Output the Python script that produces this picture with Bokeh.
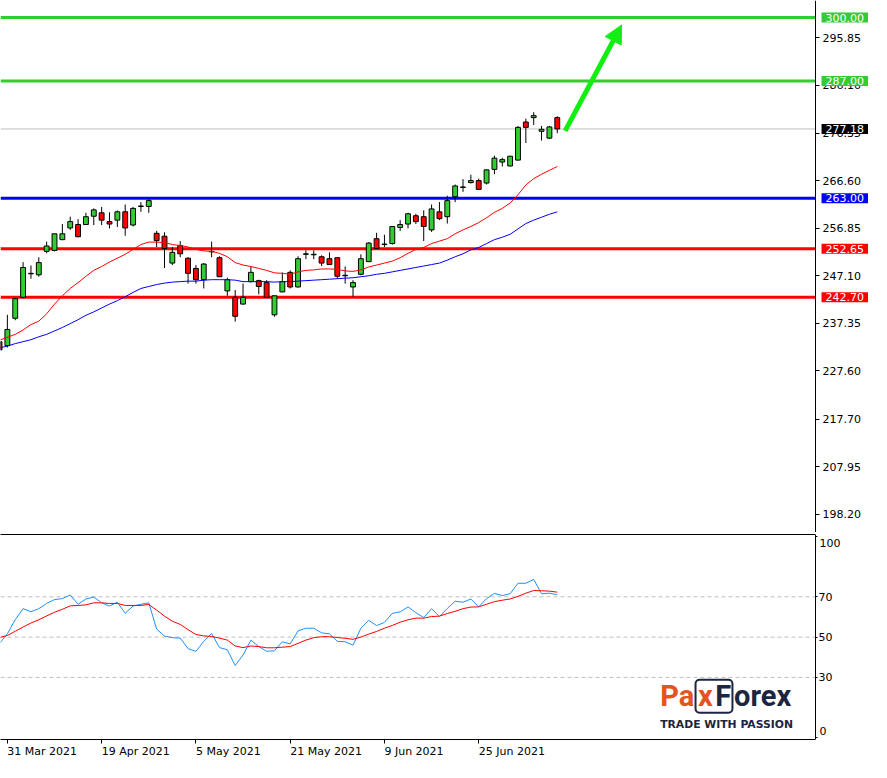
from bokeh.plotting import figure
from bokeh.layouts import column
from bokeh.models import (ColumnDataSource, Label, Arrow, NormalHead, FixedTicker,
                          PrintfTickFormatter, LinearAxis, BoxAnnotation, Range1d)
from bokeh.embed import file_html
from bokeh.resources import INLINE

# ---------------- data ----------------
bar_index = list(range(-1, 71))
opens = [233.6, 232.8, 238.4, 242.7, 247.5, 247.3, 252.1, 252.3, 254.5, 256.9,
         257.6, 257.6, 259.3, 260.0, 258.2, 258.5, 260.2, 257.5, 261.3, 261.3,
         255.8, 255.2, 249.7, 253.3, 250.7, 248.6, 246.3, 252.0, 250.8, 244.0,
         242.7, 241.3, 245.9, 246.1, 245.7, 239.1, 243.8, 247.8, 244.8, 251.5,
         251.4, 251.0, 250.6, 250.8, 247.2, 244.8, 247.4, 250.0, 254.7, 253.5,
         253.7, 257.0, 257.7, 259.4, 259.2, 256.5, 260.2, 259.2, 263.3, 265.2,
         266.2, 266.6, 266.1, 268.9, 270.4, 269.6, 270.8, 278.6, 279.5, 276.7,
         275.3, 279.5]
highs = [234.1, 239.1, 242.5, 249.9, 249.2, 250.9, 254.1, 255.7, 257.7, 259.2,
         258.7, 260.0, 260.9, 261.2, 260.1, 260.5, 261.7, 261.2, 262.2, 262.8,
         256.3, 256.0, 253.0, 254.2, 250.9, 249.3, 249.7, 254.1, 251.1, 246.7,
         244.2, 245.5, 249.0, 246.3, 246.2, 243.0, 247.8, 248.2, 251.1, 252.3,
         252.3, 251.3, 251.9, 250.8, 249.0, 246.2, 251.5, 254.0, 255.9, 255.5,
         257.2, 258.5, 260.0, 259.8, 260.5, 261.7, 262.2, 263.5, 265.8, 266.9,
         267.8, 267.0, 268.9, 271.7, 271.3, 271.6, 277.8, 279.3, 280.6, 277.8,
         277.8, 279.8]
lows = [231.4, 232.4, 238.0, 242.5, 246.5, 246.9, 251.7, 252.1, 254.4, 256.5,
        255.0, 257.5, 257.5, 257.5, 256.8, 257.1, 255.3, 257.2, 260.2, 260.0,
        253.0, 248.7, 249.3, 250.9, 245.5, 245.5, 244.5, 250.9, 246.9, 243.0,
        237.7, 241.2, 245.7, 243.3, 242.7, 238.7, 243.7, 244.5, 244.7, 250.5,
        250.5, 249.1, 249.4, 246.5, 245.5, 242.8, 247.2, 249.9, 252.7, 253.0,
        253.5, 256.3, 256.8, 257.7, 254.2, 256.1, 258.5, 257.8, 262.2, 264.3,
        266.0, 264.7, 265.8, 267.9, 269.5, 269.5, 270.7, 274.3, 278.0, 274.8,
        275.1, 276.3]
closes = [231.9, 236.1, 242.4, 248.8, 247.6, 249.8, 253.2, 255.7, 255.7, 258.2,
          255.1, 259.2, 260.6, 258.5, 257.7, 260.2, 256.9, 260.9, 261.4, 262.5,
          254.3, 252.7, 251.9, 251.6, 247.6, 246.3, 249.5, 252.1, 246.9, 246.3,
          238.8, 242.7, 247.8, 244.9, 242.7, 243.0, 245.9, 244.8, 250.6, 251.6,
          251.5, 249.7, 249.4, 247.0, 247.1, 245.7, 250.6, 253.8, 252.7, 253.6,
          257.2, 257.6, 259.8, 258.2, 257.2, 260.8, 258.8, 262.5, 265.5, 265.3,
          266.6, 264.8, 268.8, 271.2, 270.9, 271.6, 277.5, 277.5, 279.9, 277.1,
          277.6, 277.18]
ma_fast = [233.9, 234.5, 235.1, 236.0, 237.1, 237.8, 239.3, 241.3, 243.0, 244.5,
           245.7, 247.0, 248.2, 249.0, 249.9, 250.7, 251.5, 252.5, 253.5, 254.0,
           254.0, 253.9, 253.5, 253.3, 253.0, 252.5, 252.2, 252.1, 251.7, 251.0,
           249.8, 249.3, 249.0, 248.6, 248.2, 247.7, 247.6, 247.4, 247.9, 248.2,
           248.3, 248.5, 248.5, 248.4, 248.1, 248.0, 248.3, 248.9, 249.3, 249.7,
           250.1, 250.8, 251.7, 252.5, 252.9, 253.7, 254.2, 254.7, 255.7, 256.5,
           257.2, 258.0, 259.0, 260.1, 260.9, 262.0, 263.7, 265.7, 267.0, 267.9,
           268.7, 269.5]
ma_slow = [232.3, 232.7, 233.2, 233.6, 234.0, 234.6, 235.1, 235.8, 236.5, 237.3,
           238.1, 239.0, 239.7, 240.5, 241.3, 242.0, 242.8, 243.7, 244.5, 244.9,
           245.3, 245.6, 245.8, 245.9, 246.0, 246.0, 246.2, 246.3, 246.3, 246.3,
           246.2, 245.9, 245.9, 245.9, 245.9, 245.8, 245.9, 245.9, 246.0, 246.1,
           246.2, 246.3, 246.4, 246.5, 246.6, 246.7, 246.9, 247.1, 247.4, 247.6,
           247.9, 248.2, 248.5, 248.8, 249.1, 249.4, 249.7, 250.3, 251.0, 251.6,
           252.4, 252.9, 253.7, 254.5, 255.0, 255.6, 256.7, 257.8, 258.5, 259.1,
           259.7, 260.2]
rsi = [46.9, 51.6, 58.6, 64.1, 62.6, 64.1, 66.7, 68.6, 69.1, 70.9,
       66.3, 68.9, 69.9, 67.0, 65.4, 67.3, 61.8, 65.4, 66.3, 67.0,
       54.0, 50.5, 49.7, 49.5, 44.3, 42.9, 47.9, 51.8, 44.8, 43.7,
       35.9, 41.1, 48.5, 45.3, 43.0, 43.2, 47.7, 46.6, 53.1, 54.4,
       54.4, 52.1, 51.6, 47.9, 47.7, 46.0, 54.4, 58.3, 55.7, 57.3,
       61.8, 62.5, 65.0, 62.1, 59.7, 64.1, 60.2, 64.2, 67.8, 67.3,
       68.9, 65.0, 69.1, 71.7, 70.6, 71.5, 76.7, 76.7, 78.6, 71.5,
       71.8, 71.0]
rsi_signal = [49.8, 50.8, 52.9, 55.0, 57.0, 58.6, 60.5, 62.3, 63.8, 65.5,
              65.7, 66.0, 67.0, 67.0, 66.7, 66.7, 65.7, 65.7, 65.7, 66.2,
              63.4, 60.4, 57.9, 56.3, 53.7, 51.3, 50.6, 50.3, 49.5, 48.5,
              45.6, 44.8, 45.6, 45.3, 44.7, 44.7, 45.0, 45.3, 46.9, 48.5,
              49.7, 50.2, 50.2, 49.8, 49.4, 48.9, 50.0, 51.5, 52.8, 54.4,
              55.8, 57.4, 58.6, 59.4, 59.4, 60.2, 60.4, 61.7, 62.8, 64.1,
              64.9, 65.0, 66.3, 67.6, 68.3, 68.9, 70.2, 71.8, 73.1, 73.0,
              72.8, 72.3]

date_tick_index = [0, 12, 24, 36, 48, 60]
date_tick_labels = ["31 Mar 2021", "19 Apr 2021", "5 May 2021",
                    "21 May 2021", "9 Jun 2021", "25 Jun 2021"]
price_ticks = [295.85, 286.10, 276.35, 266.60, 256.85, 247.10,
               237.35, 227.60, 217.70, 207.95, 198.20]
rsi_ticks = [0, 30, 50, 70, 100]
rsi_levels = [30, 50, 70]

green_levels = [300.00, 287.00]
blue_levels = [263.00]
red_levels = [252.65, 242.70]
last_price = 277.18
arrow_from = (71.0, 276.8)
arrow_to = (78.2, 298.5)

# ---------------- styling / layout ----------------
FONT = "DejaVu Sans"
GREEN_LVL = "#33CC33"
ARROW_GREEN = "#11EE11"
CANDLE_UP = "#33CC33"
CANDLE_DN = "#FF0000"
X0, X_END = -0.875, 110.0      # visible bar-index range over the full width
X_AXIS = 102.875               # where the price / RSI scale sits
WIDTH = 871


def bare_axis(**kw):
    return LinearAxis(ticker=FixedTicker(ticks=[]), major_tick_out=0, major_tick_in=0,
                      minor_tick_out=0, minor_tick_in=0, major_label_standoff=0,
                      axis_line_color="black", bounds=(X0, X_AXIS), **kw)


def style_axis(ax, tick_out, standoff):
    ax.major_tick_out = tick_out
    ax.major_tick_in = 0
    ax.minor_tick_out = 0
    ax.minor_tick_in = 0
    ax.major_label_standoff = standoff
    ax.major_label_text_font = FONT
    ax.major_label_text_font_size = "11px"
    ax.major_label_text_color = "black"
    ax.axis_line_color = "black"


# ================= price panel =================
p1 = figure(frame_width=WIDTH, frame_height=532,
            x_range=Range1d(X0, X_END), y_range=Range1d(194.5, 303.5),
            output_backend="svg", toolbar_location=None,
            x_axis_location=None, y_axis_location=None,
            min_border_left=0, min_border_right=0,
            min_border_top=0, min_border_bottom=0)
p1.grid.visible = False
p1.outline_line_color = None

p1.add_layout(bare_axis(), "below")

ya = LinearAxis(ticker=FixedTicker(ticks=price_ticks),
                formatter=PrintfTickFormatter(format="%.2f"),
                fixed_location=X_AXIS)
style_axis(ya, 4, 3)
p1.add_layout(ya, "right")

# horizontal levels (stop at the price scale)
lvl_vals = [last_price] + green_levels + blue_levels + red_levels
lvl_cols = ["#C0C0C0"] + [GREEN_LVL] * len(green_levels) + ["#0000FF"] * len(blue_levels) \
    + ["#FF0000"] * len(red_levels)
lvl_w = [1] + [3] * (len(lvl_vals) - 1)
lvl_src = ColumnDataSource(dict(x0=[X0] * len(lvl_vals), x1=[X_AXIS] * len(lvl_vals),
                                y=lvl_vals, c=lvl_cols, w=lvl_w))
p1.segment(x0="x0", y0="y", x1="x1", y1="y", line_color="c", line_width="w", source=lvl_src)

# candles
tops = [max(o, c) for o, c in zip(opens, closes)]
bottoms = [min(o, c) for o, c in zip(opens, closes)]
colors = [CANDLE_UP if c >= o else CANDLE_DN for o, c in zip(opens, closes)]
src = ColumnDataSource(dict(x=bar_index, o=opens, h=highs, l=lows, c=closes,
                            top=tops, bottom=bottoms, color=colors))
p1.segment(x0="x", y0="l", x1="x", y1="h", source=src, line_color="black", line_width=1)
p1.vbar(x="x", width=0.62, top="top", bottom="bottom", source=src,
        fill_color="color", line_color="black", line_width=1)

# moving averages
p1.line(bar_index, ma_fast, line_color="#FF0000", line_width=1)
p1.line(bar_index, ma_slow, line_color="#0000FF", line_width=1)

# arrow
p1.add_layout(Arrow(end=NormalHead(size=18, fill_color=ARROW_GREEN, line_color=ARROW_GREEN),
                    x_start=arrow_from[0], y_start=arrow_from[1],
                    x_end=arrow_to[0], y_end=arrow_to[1],
                    line_color=ARROW_GREEN, line_width=5))


def price_label(val, bg):
    p1.add_layout(Label(x=X_AXIS, y=val, text="%.2f" % val, x_offset=6,
                        text_align="left", text_baseline="middle",
                        text_font=FONT, text_font_size="11px", text_color="white",
                        background_fill_color=bg, padding=(4, 1), level="overlay"))


for lv in green_levels:
    price_label(lv, GREEN_LVL)
price_label(last_price, "#000000")
for lv in blue_levels:
    price_label(lv, "#0000FF")
for lv in red_levels:
    price_label(lv, "#FF0000")

# ================= RSI panel =================
p2 = figure(frame_width=WIDTH, frame_height=205,
            x_range=p1.x_range, y_range=Range1d(-0.8, 100.9),
            output_backend="svg", toolbar_location=None,
            x_axis_location=None, y_axis_location=None,
            min_border_left=0, min_border_right=0,
            min_border_top=2, min_border_bottom=0)
p2.grid.visible = False
p2.outline_line_color = None

p2.add_layout(bare_axis(), "above")

bx = LinearAxis(ticker=FixedTicker(ticks=date_tick_index), bounds=(X0, X_AXIS))
bx.major_label_overrides = {i: s for i, s in zip(date_tick_index, date_tick_labels)}
style_axis(bx, 4, 8)
bx.major_label_orientation = -0.0001
p2.add_layout(bx, "below")

ry = LinearAxis(ticker=FixedTicker(ticks=rsi_ticks), fixed_location=X_AXIS)
ry.major_label_overrides = {0: "", 100: ""}
style_axis(ry, 2, 1)
p2.add_layout(ry, "right")

rl_src = ColumnDataSource(dict(x0=[X0] * len(rsi_levels), x1=[X_AXIS] * len(rsi_levels),
                               y=rsi_levels))
p2.segment(x0="x0", y0="y", x1="x1", y1="y", line_color="#C0C0C0", line_width=1,
           line_dash="4 3", source=rl_src)

for val, yy in ((100, 96.6), (0, 3.3)):
    p2.add_layout(Label(x=X_AXIS, y=yy, text=str(val), x_offset=4,
                        text_align="left", text_baseline="middle",
                        text_font=FONT, text_font_size="11px", text_color="black"))

p2.line(bar_index, rsi, line_color="#1E90FF", line_width=1)
p2.line(bar_index, rsi_signal, line_color="#FF0000", line_width=1)

# logo
ORANGE = "#E5531E"
NAVY = "#1C2541"
p2.add_layout(BoxAnnotation(left=87.6, right=92.3, bottom=12.5, top=28.8,
                            fill_alpha=0, line_color=NAVY, line_alpha=1.0,
                            line_width=2, border_radius=4))
for txt, xx, col in (("Pa", 83.1, ORANGE), ("x", 87.9, ORANGE), ("F", 90.1, NAVY),
                     ("orex", 92.5, NAVY)):
    p2.add_layout(Label(x=xx, y=21.0, text=txt, text_align="left", text_baseline="alphabetic",
                        text_font="Roboto", text_font_style="bold", text_font_size="29px",
                        text_color=col))
p2.add_layout(Label(x=83.1, y=6.5, text="TRADE WITH PASSION", text_align="left",
                    text_baseline="alphabetic", text_font=FONT, text_font_style="bold",
                    text_font_size="10.8px", text_color=NAVY))

layout = column(p1, p2, spacing=0)
open("out.html", "w").write(file_html(layout, INLINE))
